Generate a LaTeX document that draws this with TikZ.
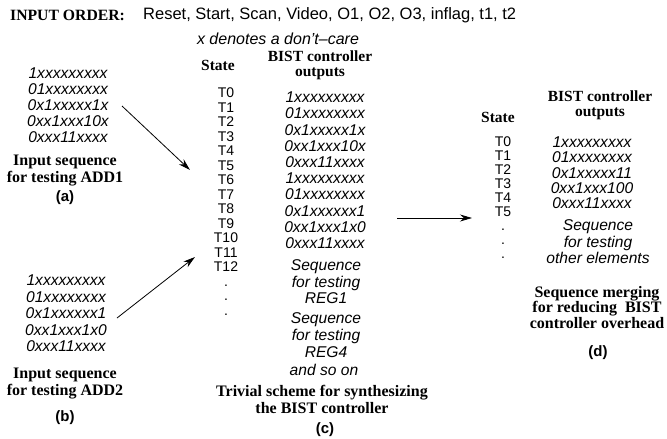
\documentclass[tikz,border=0pt]{standalone}
\usepackage{fontspec}
\setmainfont{Liberation Serif}
\setsansfont{Liberation Sans}
\usepackage{tikz}
\usetikzlibrary{arrows.meta,positioning}

\begin{document}
\begin{tikzpicture}[
  x=1pt,y=-1pt,
  bits/.style={inner sep=0pt,align=center,anchor=north,font=\sffamily\itshape\fontsize{15.6}{16.2}\selectfont},
  states/.style={inner sep=0pt,align=center,anchor=north,font=\sffamily\fontsize{14}{14.5}\selectfont},
  caption/.style={inner sep=0pt,align=center,anchor=north,font=\bfseries\fontsize{16}{17}\selectfont},
  head/.style={inner sep=0pt,align=center,font=\bfseries\fontsize{15.5}{15}\selectfont},
  tag/.style={inner sep=0pt,font=\sffamily\bfseries\fontsize{15}{15}\selectfont},
  arrow/.style={-{Stealth[length=12pt,width=7pt]},line width=0.8pt}
]
\useasboundingbox (0,0) rectangle (667,439);
% input order line
\node[head,anchor=west,font=\bfseries\fontsize{15.7}{15}\selectfont] (orderlbl) at (10,15) {INPUT ORDER:};
\node[inner sep=0pt,anchor=west,font=\sffamily\fontsize{16.5}{16}\selectfont] (ordertxt) at (143,15) {Reset, Start, Scan, Video, O1, O2, O3, inflag, t1, t2};
\node[bits,anchor=center,font=\sffamily\itshape\fontsize{16}{16}\selectfont] (dontcare) at (278,39) {x denotes a don't--care};
% (a)
\node[bits,font=\sffamily\itshape\fontsize{15.6}{16}\selectfont] (seqa) at (68,67.7) {1xxxxxxxxx\\01xxxxxxxx\\0x1xxxxx1x\\0xx1xxx10x\\0xxx11xxxx};
\node[caption] (capa) at (65,154.7) {Input sequence\\for testing ADD1};
\node[tag] (laba) at (65,198) {(a)};
% (b)
\node[bits,font=\sffamily\itshape\fontsize{15.6}{16.5}\selectfont] (seqb) at (66,274.7) {1xxxxxxxxx\\01xxxxxxxx\\0x1xxxxxx1\\0xx1xxx1x0\\0xxx11xxxx};
\node[caption] (capb) at (65,367.7) {Input sequence\\for testing ADD2};
\node[tag] (labb) at (65,418) {(b)};
% (c)
\node[head] (statec) at (218,65) {State};
\node[head] (bistc) at (320,65.5) {BIST controller\\outputs};
\node[states] (tc) at (226,88) {T0\\T1\\T2\\T3\\T4\\T5\\T6\\T7\\T8\\T9\\T10\\T11\\T12\\.\\.\\.};
\node[bits] (outc) at (325,91.7) {1xxxxxxxxx\\01xxxxxxxx\\0x1xxxxx1x\\0xx1xxx10x\\0xxx11xxxx\\1xxxxxxxxx\\01xxxxxxxx\\0x1xxxxxx1\\0xx1xxx1x0\\0xxx11xxxx};
\node[bits,font=\sffamily\itshape\fontsize{15.6}{16.5}\selectfont] (reg1) at (326,259.6) {Sequence\\for testing\\REG1};
\node[bits,font=\sffamily\itshape\fontsize{15.6}{17}\selectfont] (reg4) at (326,312.6) {Sequence\\for testing\\REG4};
\node[bits,anchor=center] (andso) at (324,370) {and so on};
\node[caption] (capc) at (322,384.7) {Trivial scheme for synthesizing\\the BIST controller};
\node[tag] (labc) at (325,430) {(c)};
% (d)
\node[head] (stated) at (498,117) {State};
\node[head] (bistd) at (600,105.5) {BIST controller\\outputs};
\node[states,font=\sffamily\fontsize{14}{14}\selectfont] (td) at (503,137) {T0\\T1\\T2\\T3\\T4\\T5\\.\\.\\.};
\node[bits,font=\sffamily\itshape\fontsize{15.6}{15.3}\selectfont] (outd) at (592,136.7) {1xxxxxxxxx\\01xxxxxxxx\\0x1xxxxx11\\0xx1xxx100\\0xxx11xxxx};
\node[bits,font=\sffamily\itshape\fontsize{15.6}{16.5}\selectfont] (seqd) at (598,219.6) {Sequence\\for testing\\other elements};
\node[caption,font=\bfseries\fontsize{16}{15.5}\selectfont] (capd) at (597,285.7) {Sequence merging\\for reducing\ \ BIST\\controller overhead};
\node[tag] (labd) at (598,353) {(d)};
% arrows
\coordinate (taila) at (122,106);
\coordinate (tipa) at (190,170);
\coordinate (tailb) at (117,318);
\coordinate (tipb) at (195,257);
\coordinate (tailc) at (397,218);
\coordinate (tipc) at (472,218);
\draw[arrow] (taila) -- (tipa);
\draw[arrow] (tailb) -- (tipb);
\draw[arrow] (tailc) -- (tipc);
\end{tikzpicture}
\end{document}
